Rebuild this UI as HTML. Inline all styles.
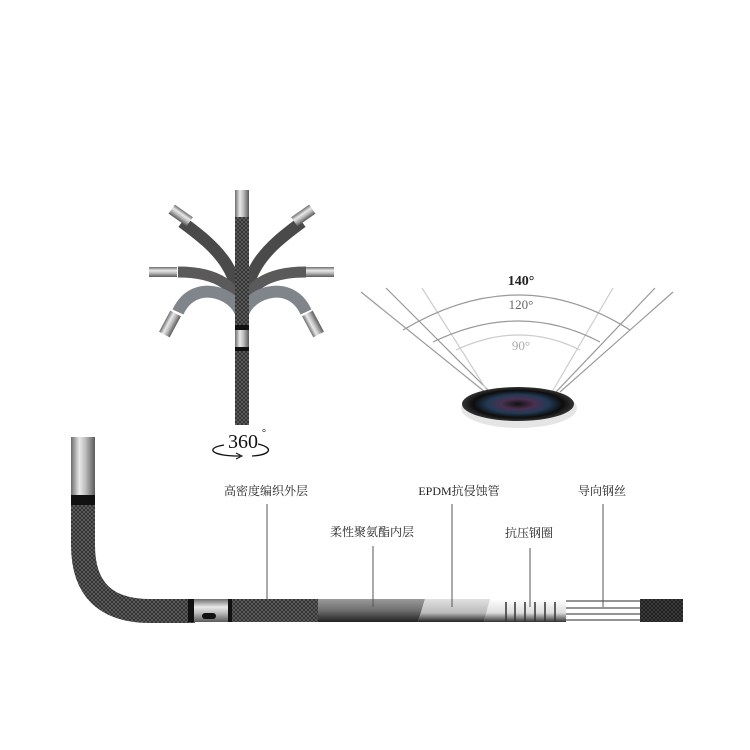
<!DOCTYPE html>
<html><head><meta charset="utf-8"><style>
html,body{margin:0;padding:0;background:#fff;}
svg{display:block}
text{font-family:"Liberation Serif","Noto Serif CJK SC",serif;}
</style></head><body>
<svg width="750" height="750" viewBox="0 0 750 750" xmlns="http://www.w3.org/2000/svg">
<defs>
<linearGradient id="silv" x1="0" x2="1" y1="0" y2="0">
<stop offset="0" stop-color="#6d6d6d"/><stop offset=".35" stop-color="#e8e8e8"/><stop offset=".6" stop-color="#bdbdbd"/><stop offset="1" stop-color="#5a5a5a"/></linearGradient>
<linearGradient id="silvv" x1="0" x2="0" y1="0" y2="1">
<stop offset="0" stop-color="#6d6d6d"/><stop offset=".35" stop-color="#e8e8e8"/><stop offset=".6" stop-color="#bdbdbd"/><stop offset="1" stop-color="#5a5a5a"/></linearGradient>
<pattern id="braid" width="4" height="4" patternUnits="userSpaceOnUse">
<rect width="4" height="4" fill="#2c2c2c"/><path d="M0 4L4 0M0 0L4 4" stroke="#6a6a6a" stroke-width=".7"/></pattern>
<radialGradient id="lens" cx=".5" cy=".5" r=".5">
<stop offset="0" stop-color="#111"/><stop offset=".3" stop-color="#4a3050"/><stop offset=".55" stop-color="#223a55"/><stop offset=".8" stop-color="#0d0d0d"/><stop offset="1" stop-color="#333"/></radialGradient>
<linearGradient id="gray" x1="0" x2="0" y1="0" y2="1"><stop offset="0" stop-color="#9a9a9a"/><stop offset=".5" stop-color="#6e6e6e"/><stop offset="1" stop-color="#222"/></linearGradient>
<linearGradient id="lgray" x1="0" x2="0" y1="0" y2="1"><stop offset="0" stop-color="#e0e0e0"/><stop offset=".6" stop-color="#bbb"/><stop offset="1" stop-color="#222"/></linearGradient>
<linearGradient id="wht" x1="0" x2="0" y1="0" y2="1"><stop offset="0" stop-color="#fff"/><stop offset=".6" stop-color="#ddd"/><stop offset="1" stop-color="#333"/></linearGradient>
</defs>

<!-- top-left articulating figure -->
<g fill="none" stroke-linecap="butt">
<path d="M242 330 C242 270 220 250 182 222" stroke="#4a4a4a" stroke-width="12"/>
<path d="M242 330 C242 270 264 250 302 222" stroke="#4a4a4a" stroke-width="12"/>
<path d="M242 320 C242 285 215 272 178 272" stroke="#5a5a5a" stroke-width="11"/>
<path d="M242 320 C242 285 269 272 306 272" stroke="#5a5a5a" stroke-width="11"/>
<path d="M242 320 C242 295 195 275 178 312" stroke="#80858c" stroke-width="12"/>
<path d="M242 320 C242 295 289 275 306 312" stroke="#80858c" stroke-width="12"/>
</g>
<g>
<rect x="170" y="210" width="22" height="11" fill="url(#silvv)" transform="rotate(35 181 215)"/>
<rect x="292" y="210" width="22" height="11" fill="url(#silvv)" transform="rotate(-35 303 215)"/>
<rect x="149" y="267" width="28" height="10" fill="url(#silvv)"/>
<rect x="306" y="267" width="28" height="10" fill="url(#silvv)"/>
<rect x="164" y="312" width="12" height="24" fill="url(#silv)" transform="rotate(28 170 324)"/>
<rect x="307" y="312" width="12" height="24" fill="url(#silv)" transform="rotate(-28 313 324)"/>
</g>
<rect x="235" y="217" width="14" height="208" fill="url(#braid)"/>
<rect x="235" y="190" width="14" height="27" fill="url(#silv)"/>
<rect x="235" y="325" width="14" height="5" fill="#111"/>
<rect x="235" y="330" width="14" height="17" fill="url(#silv)"/>
<rect x="235" y="347" width="14" height="4" fill="#111"/>
<text x="243" y="448" font-family="Liberation Sans,sans-serif" font-size="20" text-anchor="middle" fill="#111">360</text>
<text x="262" y="436" font-size="10" fill="#111">°</text>
<path d="M224 445 C205 448 210 456 240 456" stroke="#111" fill="none" stroke-width="1.3"/>
<path d="M258 444 C275 448 270 455 252 456" stroke="#111" fill="none" stroke-width="1.3"/>
<path d="M236 453 L242 456 L236 459" stroke="#111" fill="none"/>

<!-- camera FOV -->
<g stroke="#999" stroke-width="1.2" fill="none">
<line x1="361" y1="292" x2="485" y2="392"/>
<line x1="386" y1="288" x2="490" y2="392"/>
<line x1="422" y1="288" x2="488" y2="392" stroke="#ccc"/>
<line x1="673" y1="292" x2="560" y2="392"/>
<line x1="655" y1="288" x2="556" y2="392"/>
<line x1="613" y1="288" x2="552" y2="392" stroke="#ccc"/>
<path d="M403 330 Q520 260 630 330"/>
<path d="M433 342 Q520 300 600 342"/>
<path d="M456 350 Q520 320 580 350" stroke="#ccc"/>
</g>
<text x="521" y="285" font-size="14" font-weight="bold" text-anchor="middle" fill="#222">140°</text>
<text x="521" y="309" font-size="13" text-anchor="middle" fill="#666">120°</text>
<text x="521" y="350" font-size="13" text-anchor="middle" fill="#aaa">90°</text>
<ellipse cx="519" cy="408" rx="58" ry="20" fill="#ccc" opacity=".5"/>
<ellipse cx="518" cy="404" rx="56" ry="17" fill="url(#lens)"/>

<!-- bottom cable -->
<path d="M83 495 L83 545 Q83 611 150 611 L195 611" stroke="url(#braid)" stroke-width="24" fill="none"/>
<rect x="71" y="437" width="24" height="58" fill="url(#silv)"/>
<rect x="71" y="495" width="24" height="10" fill="#111"/>
<rect x="188" y="599" width="6" height="23" fill="#111"/>
<rect x="194" y="599" width="34" height="23" fill="url(#silvv)"/>
<rect x="202" y="613" width="14" height="6" rx="3" fill="#111"/>
<rect x="228" y="599" width="4" height="23" fill="#111"/>
<rect x="232" y="599" width="86" height="23" fill="url(#braid)"/>
<path d="M318 599 L425 599 L418 622 L318 622Z" fill="url(#gray)"/>
<path d="M425 599 L490 599 L484 622 L418 622Z" fill="url(#lgray)"/>
<path d="M490 599 L566 599 L566 622 L484 622Z" fill="url(#wht)"/>
<g stroke="#333" stroke-width="1.5"><line x1="506" y1="602" x2="506" y2="622"/><line x1="515" y1="602" x2="515" y2="622"/><line x1="525" y1="602" x2="525" y2="622"/><line x1="535" y1="602" x2="535" y2="622"/><line x1="545" y1="602" x2="545" y2="622"/><line x1="555" y1="602" x2="555" y2="622"/></g>
<g stroke="#555" stroke-width="1.2"><line x1="566" y1="601" x2="640" y2="601"/><line x1="566" y1="608" x2="640" y2="608"/><line x1="566" y1="614" x2="640" y2="614"/><line x1="566" y1="620" x2="640" y2="620"/></g>
<rect x="640" y="599" width="43" height="23" fill="url(#braid)"/>
<rect x="640" y="599" width="43" height="23" fill="#000" opacity=".35"/>

<!-- labels -->
<g stroke="#555" stroke-width="1">
<line x1="267" y1="504" x2="267" y2="600"/>
<line x1="373" y1="546" x2="373" y2="607"/>
<line x1="452" y1="504" x2="452" y2="607"/>
<line x1="530" y1="548" x2="530" y2="607"/>
<line x1="603" y1="504" x2="603" y2="607"/>
</g>
<g font-size="12" fill="#222" text-anchor="middle">
<text x="266" y="495">高密度编织外层</text>
<text x="372" y="536">柔性聚氨酯内层</text>
<text x="459" y="495">EPDM抗侵蚀管</text>
<text x="529" y="537">抗压钢圈</text>
<text x="602" y="495">导向钢丝</text>
</g>
</svg>
</body></html>
